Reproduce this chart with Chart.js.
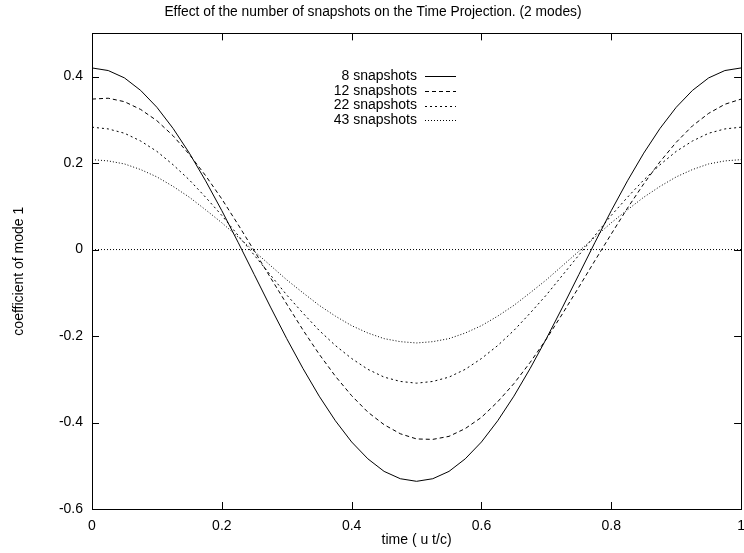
<!DOCTYPE html>
<html>
<head>
<meta charset="utf-8">
<script src="https://cdn.jsdelivr.net/npm/chart.js@4.4.1/dist/chart.umd.min.js"></script>
<style>
    html, body { margin: 0; padding: 0; background: #fff; overflow: hidden; }
    #plot { display: block; }
</style>
</head>
<body>
<canvas id="plot" width="754" height="553"></canvas>
<script>
// sample times (u t/c), every 0.025
const times = [0, 0.025, 0.05, 0.075, 0.1, 0.125, 0.15, 0.175, 0.2, 0.225,
               0.25, 0.275, 0.3, 0.325, 0.35, 0.375, 0.4, 0.425, 0.45, 0.475,
               0.5, 0.525, 0.55, 0.575, 0.6, 0.625, 0.65, 0.675, 0.7, 0.725,
               0.75, 0.775, 0.8, 0.825, 0.85, 0.875, 0.9, 0.925, 0.95, 0.975, 1];

// coefficient of mode 1
const snap8  = [0.420, 0.414, 0.397, 0.368, 0.329, 0.280, 0.223, 0.159, 0.090, 0.017,
                -0.058, -0.133, -0.206, -0.275, -0.339, -0.396, -0.445, -0.484, -0.513, -0.530,
                -0.536, -0.530, -0.513, -0.484, -0.445, -0.396, -0.339, -0.275, -0.206, -0.133,
                -0.058, 0.017, 0.090, 0.159, 0.223, 0.280, 0.329, 0.368, 0.397, 0.414, 0.420];
const snap12 = [0.348, 0.350, 0.342, 0.324, 0.298, 0.263, 0.220, 0.171, 0.117, 0.058,
                -0.003, -0.065, -0.126, -0.186, -0.242, -0.293, -0.338, -0.376, -0.405, -0.426,
                -0.438, -0.439, -0.432, -0.414, -0.388, -0.352, -0.310, -0.261, -0.207, -0.148,
                -0.087, -0.025, 0.036, 0.096, 0.152, 0.203, 0.248, 0.286, 0.315, 0.336, 0.348];
const snap22 = [0.283, 0.279, 0.269, 0.251, 0.227, 0.196, 0.161, 0.121, 0.079, 0.033,
                -0.013, -0.059, -0.105, -0.147, -0.187, -0.222, -0.252, -0.277, -0.295, -0.305,
                -0.309, -0.305, -0.295, -0.277, -0.252, -0.222, -0.187, -0.147, -0.105, -0.059,
                -0.013, 0.033, 0.079, 0.121, 0.161, 0.196, 0.227, 0.251, 0.269, 0.279, 0.283];
const snap43 = [0.208, 0.205, 0.198, 0.185, 0.168, 0.146, 0.121, 0.092, 0.062, 0.029,
                -0.004, -0.037, -0.070, -0.100, -0.129, -0.154, -0.176, -0.193, -0.206, -0.213,
                -0.216, -0.213, -0.206, -0.193, -0.176, -0.154, -0.129, -0.100, -0.070, -0.037,
                -0.004, 0.029, 0.062, 0.092, 0.121, 0.146, 0.168, 0.185, 0.198, 0.205, 0.208];

const seriesLabels = ['8 snapshots', '12 snapshots', '22 snapshots', '43 snapshots'];
const seriesValues = [snap8, snap12, snap22, snap43];
const seriesDash = [[], [4, 3], [2, 3], [1, 2]];

const xTicks = [0, 0.2, 0.4, 0.6, 0.8, 1];
const yTicks = [-0.6, -0.4, -0.2, 0, 0.2, 0.4];

const FONT = 'Liberation Sans, Arial, Helvetica, sans-serif';
const FONT_SIZE = 14;
const TICK_LEN = 7;

const datasets = seriesValues.map((vals, i) => ({
    label: seriesLabels[i],
    data: vals.map((v, k) => ({ x: times[k], y: v })),
    borderColor: '#000',
    borderWidth: 1,
    borderDash: seriesDash[i],
    pointRadius: 0,
    tension: 0,
    fill: false,
}));

// dotted zero axis
datasets.push({
    label: '',
    data: [{ x: xTicks[0], y: 0 }, { x: xTicks[xTicks.length - 1], y: 0 }],
    borderColor: '#000',
    borderWidth: 1,
    borderDash: [1, 2],
    pointRadius: 0,
});

// gnuplot-like frame with inward ticks and key
const framePlugin = {
    id: 'frame',
    afterDatasetsDraw(chart) {
        const ctx = chart.ctx;
        const a = chart.chartArea;
        const xs = chart.scales.x;
        const ys = chart.scales.y;
        ctx.save();
        ctx.strokeStyle = '#000';
        ctx.lineWidth = 1;
        ctx.setLineDash([]);
        ctx.strokeRect(Math.round(a.left) + 0.5, Math.round(a.top) + 0.5,
                       Math.round(a.right - a.left), Math.round(a.bottom - a.top));
        ctx.beginPath();
        xTicks.forEach((t) => {
            const px = Math.round(xs.getPixelForValue(t)) + 0.5;
            ctx.moveTo(px, a.bottom); ctx.lineTo(px, a.bottom - TICK_LEN);
            ctx.moveTo(px, a.top); ctx.lineTo(px, a.top + TICK_LEN);
        });
        yTicks.forEach((t) => {
            const py = Math.round(ys.getPixelForValue(t)) + 0.5;
            ctx.moveTo(a.left, py); ctx.lineTo(a.left + TICK_LEN, py);
            ctx.moveTo(a.right, py); ctx.lineTo(a.right - TICK_LEN, py);
        });
        ctx.stroke();

        // key
        ctx.font = FONT_SIZE + 'px ' + FONT;
        ctx.fillStyle = '#000';
        ctx.textAlign = 'right';
        ctx.textBaseline = 'middle';
        seriesLabels.forEach((lab, i) => {
            const y = 76 + i * 14.8;
            ctx.fillText(lab, 417, y);
            ctx.setLineDash(seriesDash[i]);
            ctx.beginPath();
            ctx.moveTo(425, Math.round(y) + 0.5);
            ctx.lineTo(456, Math.round(y) + 0.5);
            ctx.stroke();
        });
        ctx.restore();
    }
};

const fmt = (v) => String(Math.round(v * 10) / 10);

new Chart(document.getElementById('plot'), {
    type: 'line',
    data: { datasets },
    plugins: [framePlugin],
    options: {
        responsive: false,
        animation: false,
        layout: { padding: { left: 0, right: 8, top: 0, bottom: 0 } },
        plugins: {
            legend: { display: false },
            tooltip: { enabled: false },
            title: {
                display: true,
                text: 'Effect of the number of snapshots on the Time Projection. (2 modes)',
                color: '#000',
                font: { family: FONT, size: 13.8, weight: 'normal' },
                padding: { top: 4, bottom: 12.8 },
            },
        },
        scales: {
            x: {
                type: 'linear',
                min: 0,
                max: 1,
                afterBuildTicks: (s) => { s.ticks = xTicks.map((v) => ({ value: v })); },
                afterFit: (s) => { s.height = 44; },
                grid: { display: false, drawTicks: false },
                border: { display: false },
                ticks: { color: '#000', padding: 9, maxRotation: 0, font: { family: FONT, size: FONT_SIZE }, callback: fmt },
                title: {
                    display: true,
                    text: 'time ( u t/c)',
                    color: '#000',
                    font: { family: FONT, size: FONT_SIZE },
                    padding: { top: 0, bottom: 4 },
                },
            },
            y: {
                type: 'linear',
                min: -0.6,
                max: 0.5,
                afterBuildTicks: (s) => { s.ticks = yTicks.map((v) => ({ value: v })); },
                afterFit: (s) => { s.width = 92; },
                grid: { display: false, drawTicks: false },
                border: { display: false },
                ticks: { color: '#000', padding: 9, font: { family: FONT, size: FONT_SIZE }, callback: fmt },
                title: {
                    display: true,
                    text: 'coefficient of mode 1',
                    color: '#000',
                    font: { family: FONT, size: FONT_SIZE },
                    padding: { top: 11, bottom: 0 },
                },
            },
        },
    },
});
</script>
</body>
</html>
